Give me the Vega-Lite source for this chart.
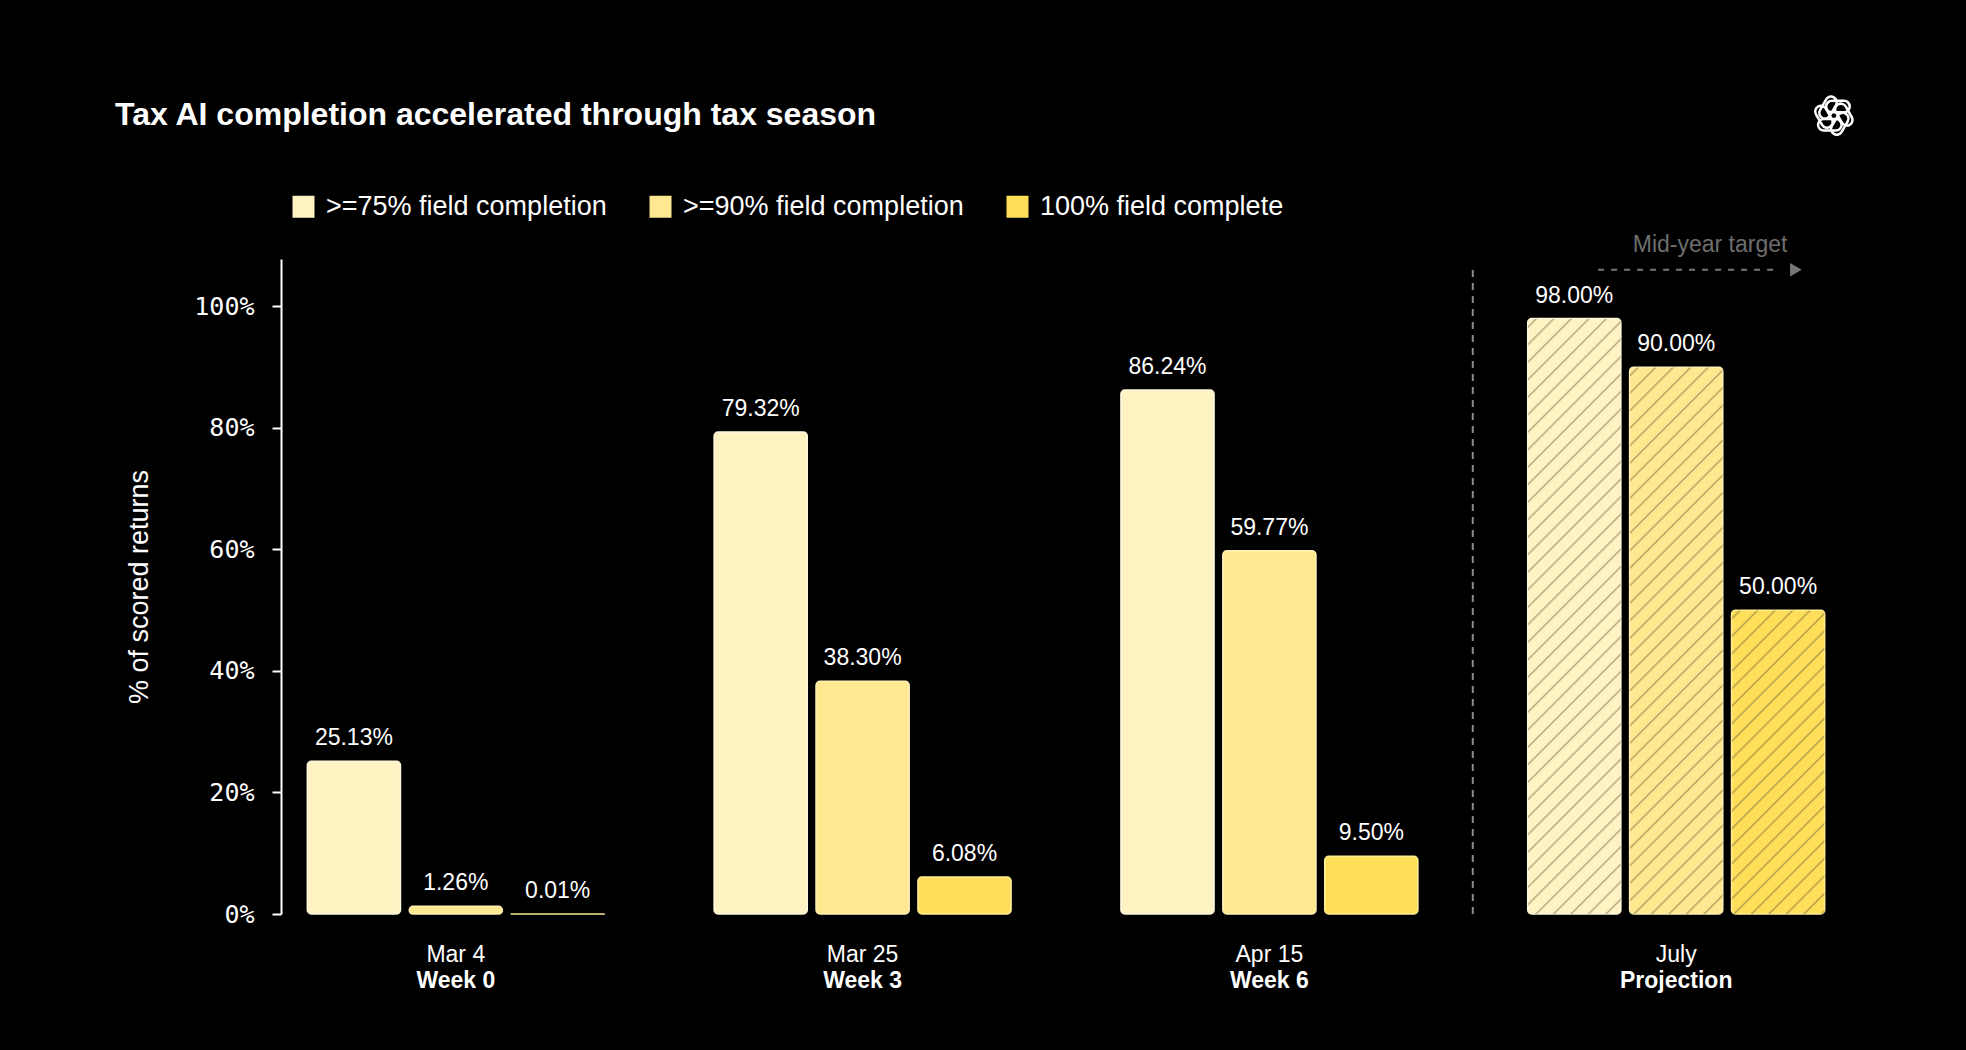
{
  "$schema": "https://vega.github.io/schema/vega-lite/v6.json",
  "width": 1570,
  "height": 655,
  "autosize": {"type": "none"},
  "padding": {"left": 281, "top": 259, "right": 115, "bottom": 136},
  "background": "#000000",
  "config": {
    "view": {"stroke": null},
    "font": "Liberation Sans",
    "axis": {"grid": false}
  },
  "title": {
    "text": "Tax AI completion accelerated through tax season",
    "anchor": "start",
    "frame": "group",
    "font": "Liberation Sans",
    "fontSize": 32,
    "fontWeight": "bold",
    "color": "#ffffff",
    "baseline": "alphabetic",
    "offset": 0,
    "dx": -166,
    "dy": 65
  },
  "data": {
    "values": [
      {"date": "Mar 4", "series": ">=75% field completion", "value": 0.2513},
      {"date": "Mar 4", "series": ">=90% field completion", "value": 0.0126},
      {"date": "Mar 4", "series": "100% field complete", "value": 0.0001},
      {"date": "Mar 25", "series": ">=75% field completion", "value": 0.7932},
      {"date": "Mar 25", "series": ">=90% field completion", "value": 0.383},
      {"date": "Mar 25", "series": "100% field complete", "value": 0.0608},
      {"date": "Apr 15", "series": ">=75% field completion", "value": 0.8624},
      {"date": "Apr 15", "series": ">=90% field completion", "value": 0.5977},
      {"date": "Apr 15", "series": "100% field complete", "value": 0.095},
      {"date": "July", "series": ">=75% field completion", "value": 0.98},
      {"date": "July", "series": ">=90% field completion", "value": 0.9},
      {"date": "July", "series": "100% field complete", "value": 0.5}
    ]
  },
  "layer": [
    {
      "data": {"values": [{"marker": "projection"}]},
      "mark": {"type": "rule", "color": "#8a8a8a", "strokeWidth": 2, "strokeDash": [7, 6]},
      "encoding": {
        "x": {"datum": "July", "bandPosition": -0.185, "axis": null},
        "y": {"datum": 0},
        "y2": {"datum": 1.067}
      }
    },
    {
      "mark": {"type": "bar", "cornerRadius": 4, "strokeWidth": 1.5},
      "encoding": {
        "x": {
          "field": "date",
          "type": "nominal",
          "scale": {"domain": ["Mar 4", "Mar 25", "Apr 15", "July"], "paddingInner": 0.27, "paddingOuter": 0.0647},
          "axis": {
            "title": null,
            "orient": "bottom",
            "domain": false,
            "ticks": false,
            "tickSize": 0,
            "labelAngle": 0,
            "labelFont": "Liberation Sans",
            "labelFontSize": 23,
            "labelColor": "#ffffff",
            "labelPadding": 29
          }
        },
        "xOffset": {
          "field": "series",
          "type": "nominal",
          "scale": {"domain": [">=75% field completion", ">=90% field completion", "100% field complete"], "paddingInner": 0.086, "paddingOuter": 0}
        },
        "y": {
          "field": "value",
          "type": "quantitative",
          "scale": {"domain": [0, 1.078], "nice": false},
          "axis": {
            "title": "% of scored returns",
            "values": [0, 0.2, 0.4, 0.6, 0.8, 1],
            "format": ".0%",
            "domainColor": "#ffffff",
            "domainWidth": 2,
            "tickColor": "#ffffff",
            "tickWidth": 2,
            "tickSize": 9,
            "labelFont": "DejaVu Sans Mono",
            "labelFontSize": 25,
            "labelColor": "#ffffff",
            "labelPadding": 18,
            "titleFont": "Liberation Sans",
            "titleFontSize": 27,
            "titleFontWeight": "normal",
            "titleColor": "#ffffff",
            "titlePadding": 40
          }
        },
        "color": {
          "field": "series",
          "type": "nominal",
          "scale": {
            "domain": [">=75% field completion", ">=90% field completion", "100% field complete"],
            "range": ["#fff3c4", "#ffe88f", "#ffdf5a"]
          },
          "legend": {
            "title": null,
            "orient": "none",
            "legendX": 9,
            "legendY": -66,
            "direction": "horizontal",
            "symbolType": "square",
            "symbolSize": 484,
            "symbolStrokeWidth": 0,
            "symbolOpacity": 1,
            "labelFont": "Liberation Sans",
            "labelFontSize": 27,
            "labelColor": "#ffffff",
            "labelLimit": 500,
            "labelOffset": 9,
            "columnPadding": 40
          }
        },
        "stroke": {
          "field": "series",
          "type": "nominal",
          "scale": {
            "domain": [">=75% field completion", ">=90% field completion", "100% field complete"],
            "range": ["#fff8dc", "#fff0b4", "#ffec94"]
          },
          "legend": null
        }
      }
    },
    {
      "transform": [{"filter": "datum.date == 'July'"}],
      "mark": {"type": "bar", "cornerRadius": 4},
      "encoding": {
        "x": {"field": "date", "type": "nominal", "axis": null},
        "xOffset": {"field": "series", "type": "nominal"},
        "y": {"field": "value", "type": "quantitative"},
        "fill": {
          "condition": [
            {
              "test": "datum.series == '>=75% field completion'",
              "value": {
                "gradient": "linear", "x1": 0, "y1": 0, "x2": 0.17963, "y2": 1.14758,
                "stops": [
                  {"offset": 0.0095, "color": "rgba(90,80,50,0)"}, {"offset": 0.0125, "color": "rgba(90,80,50,0.45)"}, {"offset": 0.0155, "color": "rgba(90,80,50,0)"},
                  {"offset": 0.0345, "color": "rgba(90,80,50,0)"}, {"offset": 0.0375, "color": "rgba(90,80,50,0.45)"}, {"offset": 0.0405, "color": "rgba(90,80,50,0)"},
                  {"offset": 0.0595, "color": "rgba(90,80,50,0)"}, {"offset": 0.0625, "color": "rgba(90,80,50,0.45)"}, {"offset": 0.0655, "color": "rgba(90,80,50,0)"},
                  {"offset": 0.0845, "color": "rgba(90,80,50,0)"}, {"offset": 0.0875, "color": "rgba(90,80,50,0.45)"}, {"offset": 0.0905, "color": "rgba(90,80,50,0)"},
                  {"offset": 0.1095, "color": "rgba(90,80,50,0)"}, {"offset": 0.1125, "color": "rgba(90,80,50,0.45)"}, {"offset": 0.1155, "color": "rgba(90,80,50,0)"},
                  {"offset": 0.1345, "color": "rgba(90,80,50,0)"}, {"offset": 0.1375, "color": "rgba(90,80,50,0.45)"}, {"offset": 0.1405, "color": "rgba(90,80,50,0)"},
                  {"offset": 0.1595, "color": "rgba(90,80,50,0)"}, {"offset": 0.1625, "color": "rgba(90,80,50,0.45)"}, {"offset": 0.1655, "color": "rgba(90,80,50,0)"},
                  {"offset": 0.1845, "color": "rgba(90,80,50,0)"}, {"offset": 0.1875, "color": "rgba(90,80,50,0.45)"}, {"offset": 0.1905, "color": "rgba(90,80,50,0)"},
                  {"offset": 0.2095, "color": "rgba(90,80,50,0)"}, {"offset": 0.2125, "color": "rgba(90,80,50,0.45)"}, {"offset": 0.2155, "color": "rgba(90,80,50,0)"},
                  {"offset": 0.2345, "color": "rgba(90,80,50,0)"}, {"offset": 0.2375, "color": "rgba(90,80,50,0.45)"}, {"offset": 0.2405, "color": "rgba(90,80,50,0)"},
                  {"offset": 0.2595, "color": "rgba(90,80,50,0)"}, {"offset": 0.2625, "color": "rgba(90,80,50,0.45)"}, {"offset": 0.2655, "color": "rgba(90,80,50,0)"},
                  {"offset": 0.2845, "color": "rgba(90,80,50,0)"}, {"offset": 0.2875, "color": "rgba(90,80,50,0.45)"}, {"offset": 0.2905, "color": "rgba(90,80,50,0)"},
                  {"offset": 0.3095, "color": "rgba(90,80,50,0)"}, {"offset": 0.3125, "color": "rgba(90,80,50,0.45)"}, {"offset": 0.3155, "color": "rgba(90,80,50,0)"},
                  {"offset": 0.3345, "color": "rgba(90,80,50,0)"}, {"offset": 0.3375, "color": "rgba(90,80,50,0.45)"}, {"offset": 0.3405, "color": "rgba(90,80,50,0)"},
                  {"offset": 0.3595, "color": "rgba(90,80,50,0)"}, {"offset": 0.3625, "color": "rgba(90,80,50,0.45)"}, {"offset": 0.3655, "color": "rgba(90,80,50,0)"},
                  {"offset": 0.3845, "color": "rgba(90,80,50,0)"}, {"offset": 0.3875, "color": "rgba(90,80,50,0.45)"}, {"offset": 0.3905, "color": "rgba(90,80,50,0)"},
                  {"offset": 0.4095, "color": "rgba(90,80,50,0)"}, {"offset": 0.4125, "color": "rgba(90,80,50,0.45)"}, {"offset": 0.4155, "color": "rgba(90,80,50,0)"},
                  {"offset": 0.4345, "color": "rgba(90,80,50,0)"}, {"offset": 0.4375, "color": "rgba(90,80,50,0.45)"}, {"offset": 0.4405, "color": "rgba(90,80,50,0)"},
                  {"offset": 0.4595, "color": "rgba(90,80,50,0)"}, {"offset": 0.4625, "color": "rgba(90,80,50,0.45)"}, {"offset": 0.4655, "color": "rgba(90,80,50,0)"},
                  {"offset": 0.4845, "color": "rgba(90,80,50,0)"}, {"offset": 0.4875, "color": "rgba(90,80,50,0.45)"}, {"offset": 0.4905, "color": "rgba(90,80,50,0)"},
                  {"offset": 0.5095, "color": "rgba(90,80,50,0)"}, {"offset": 0.5125, "color": "rgba(90,80,50,0.45)"}, {"offset": 0.5155, "color": "rgba(90,80,50,0)"},
                  {"offset": 0.5345, "color": "rgba(90,80,50,0)"}, {"offset": 0.5375, "color": "rgba(90,80,50,0.45)"}, {"offset": 0.5405, "color": "rgba(90,80,50,0)"},
                  {"offset": 0.5595, "color": "rgba(90,80,50,0)"}, {"offset": 0.5625, "color": "rgba(90,80,50,0.45)"}, {"offset": 0.5655, "color": "rgba(90,80,50,0)"},
                  {"offset": 0.5845, "color": "rgba(90,80,50,0)"}, {"offset": 0.5875, "color": "rgba(90,80,50,0.45)"}, {"offset": 0.5905, "color": "rgba(90,80,50,0)"},
                  {"offset": 0.6095, "color": "rgba(90,80,50,0)"}, {"offset": 0.6125, "color": "rgba(90,80,50,0.45)"}, {"offset": 0.6155, "color": "rgba(90,80,50,0)"},
                  {"offset": 0.6345, "color": "rgba(90,80,50,0)"}, {"offset": 0.6375, "color": "rgba(90,80,50,0.45)"}, {"offset": 0.6405, "color": "rgba(90,80,50,0)"},
                  {"offset": 0.6595, "color": "rgba(90,80,50,0)"}, {"offset": 0.6625, "color": "rgba(90,80,50,0.45)"}, {"offset": 0.6655, "color": "rgba(90,80,50,0)"},
                  {"offset": 0.6845, "color": "rgba(90,80,50,0)"}, {"offset": 0.6875, "color": "rgba(90,80,50,0.45)"}, {"offset": 0.6905, "color": "rgba(90,80,50,0)"},
                  {"offset": 0.7095, "color": "rgba(90,80,50,0)"}, {"offset": 0.7125, "color": "rgba(90,80,50,0.45)"}, {"offset": 0.7155, "color": "rgba(90,80,50,0)"},
                  {"offset": 0.7345, "color": "rgba(90,80,50,0)"}, {"offset": 0.7375, "color": "rgba(90,80,50,0.45)"}, {"offset": 0.7405, "color": "rgba(90,80,50,0)"},
                  {"offset": 0.7595, "color": "rgba(90,80,50,0)"}, {"offset": 0.7625, "color": "rgba(90,80,50,0.45)"}, {"offset": 0.7655, "color": "rgba(90,80,50,0)"},
                  {"offset": 0.7845, "color": "rgba(90,80,50,0)"}, {"offset": 0.7875, "color": "rgba(90,80,50,0.45)"}, {"offset": 0.7905, "color": "rgba(90,80,50,0)"},
                  {"offset": 0.8095, "color": "rgba(90,80,50,0)"}, {"offset": 0.8125, "color": "rgba(90,80,50,0.45)"}, {"offset": 0.8155, "color": "rgba(90,80,50,0)"},
                  {"offset": 0.8345, "color": "rgba(90,80,50,0)"}, {"offset": 0.8375, "color": "rgba(90,80,50,0.45)"}, {"offset": 0.8405, "color": "rgba(90,80,50,0)"},
                  {"offset": 0.8595, "color": "rgba(90,80,50,0)"}, {"offset": 0.8625, "color": "rgba(90,80,50,0.45)"}, {"offset": 0.8655, "color": "rgba(90,80,50,0)"},
                  {"offset": 0.8845, "color": "rgba(90,80,50,0)"}, {"offset": 0.8875, "color": "rgba(90,80,50,0.45)"}, {"offset": 0.8905, "color": "rgba(90,80,50,0)"},
                  {"offset": 0.9095, "color": "rgba(90,80,50,0)"}, {"offset": 0.9125, "color": "rgba(90,80,50,0.45)"}, {"offset": 0.9155, "color": "rgba(90,80,50,0)"},
                  {"offset": 0.9345, "color": "rgba(90,80,50,0)"}, {"offset": 0.9375, "color": "rgba(90,80,50,0.45)"}, {"offset": 0.9405, "color": "rgba(90,80,50,0)"},
                  {"offset": 0.9595, "color": "rgba(90,80,50,0)"}, {"offset": 0.9625, "color": "rgba(90,80,50,0.45)"}, {"offset": 0.9655, "color": "rgba(90,80,50,0)"},
                  {"offset": 0.9845, "color": "rgba(90,80,50,0)"}, {"offset": 0.9875, "color": "rgba(90,80,50,0.45)"}, {"offset": 0.9905, "color": "rgba(90,80,50,0)"}
                ]
              }
            },
            {
              "test": "datum.series == '>=90% field completion'",
              "value": {
                "gradient": "linear", "x1": 0, "y1": 0, "x2": 0.21204, "y2": 1.24404,
                "stops": [
                  {"offset": 0.0095, "color": "rgba(90,80,50,0)"}, {"offset": 0.0125, "color": "rgba(90,80,50,0.45)"}, {"offset": 0.0155, "color": "rgba(90,80,50,0)"},
                  {"offset": 0.0345, "color": "rgba(90,80,50,0)"}, {"offset": 0.0375, "color": "rgba(90,80,50,0.45)"}, {"offset": 0.0405, "color": "rgba(90,80,50,0)"},
                  {"offset": 0.0595, "color": "rgba(90,80,50,0)"}, {"offset": 0.0625, "color": "rgba(90,80,50,0.45)"}, {"offset": 0.0655, "color": "rgba(90,80,50,0)"},
                  {"offset": 0.0845, "color": "rgba(90,80,50,0)"}, {"offset": 0.0875, "color": "rgba(90,80,50,0.45)"}, {"offset": 0.0905, "color": "rgba(90,80,50,0)"},
                  {"offset": 0.1095, "color": "rgba(90,80,50,0)"}, {"offset": 0.1125, "color": "rgba(90,80,50,0.45)"}, {"offset": 0.1155, "color": "rgba(90,80,50,0)"},
                  {"offset": 0.1345, "color": "rgba(90,80,50,0)"}, {"offset": 0.1375, "color": "rgba(90,80,50,0.45)"}, {"offset": 0.1405, "color": "rgba(90,80,50,0)"},
                  {"offset": 0.1595, "color": "rgba(90,80,50,0)"}, {"offset": 0.1625, "color": "rgba(90,80,50,0.45)"}, {"offset": 0.1655, "color": "rgba(90,80,50,0)"},
                  {"offset": 0.1845, "color": "rgba(90,80,50,0)"}, {"offset": 0.1875, "color": "rgba(90,80,50,0.45)"}, {"offset": 0.1905, "color": "rgba(90,80,50,0)"},
                  {"offset": 0.2095, "color": "rgba(90,80,50,0)"}, {"offset": 0.2125, "color": "rgba(90,80,50,0.45)"}, {"offset": 0.2155, "color": "rgba(90,80,50,0)"},
                  {"offset": 0.2345, "color": "rgba(90,80,50,0)"}, {"offset": 0.2375, "color": "rgba(90,80,50,0.45)"}, {"offset": 0.2405, "color": "rgba(90,80,50,0)"},
                  {"offset": 0.2595, "color": "rgba(90,80,50,0)"}, {"offset": 0.2625, "color": "rgba(90,80,50,0.45)"}, {"offset": 0.2655, "color": "rgba(90,80,50,0)"},
                  {"offset": 0.2845, "color": "rgba(90,80,50,0)"}, {"offset": 0.2875, "color": "rgba(90,80,50,0.45)"}, {"offset": 0.2905, "color": "rgba(90,80,50,0)"},
                  {"offset": 0.3095, "color": "rgba(90,80,50,0)"}, {"offset": 0.3125, "color": "rgba(90,80,50,0.45)"}, {"offset": 0.3155, "color": "rgba(90,80,50,0)"},
                  {"offset": 0.3345, "color": "rgba(90,80,50,0)"}, {"offset": 0.3375, "color": "rgba(90,80,50,0.45)"}, {"offset": 0.3405, "color": "rgba(90,80,50,0)"},
                  {"offset": 0.3595, "color": "rgba(90,80,50,0)"}, {"offset": 0.3625, "color": "rgba(90,80,50,0.45)"}, {"offset": 0.3655, "color": "rgba(90,80,50,0)"},
                  {"offset": 0.3845, "color": "rgba(90,80,50,0)"}, {"offset": 0.3875, "color": "rgba(90,80,50,0.45)"}, {"offset": 0.3905, "color": "rgba(90,80,50,0)"},
                  {"offset": 0.4095, "color": "rgba(90,80,50,0)"}, {"offset": 0.4125, "color": "rgba(90,80,50,0.45)"}, {"offset": 0.4155, "color": "rgba(90,80,50,0)"},
                  {"offset": 0.4345, "color": "rgba(90,80,50,0)"}, {"offset": 0.4375, "color": "rgba(90,80,50,0.45)"}, {"offset": 0.4405, "color": "rgba(90,80,50,0)"},
                  {"offset": 0.4595, "color": "rgba(90,80,50,0)"}, {"offset": 0.4625, "color": "rgba(90,80,50,0.45)"}, {"offset": 0.4655, "color": "rgba(90,80,50,0)"},
                  {"offset": 0.4845, "color": "rgba(90,80,50,0)"}, {"offset": 0.4875, "color": "rgba(90,80,50,0.45)"}, {"offset": 0.4905, "color": "rgba(90,80,50,0)"},
                  {"offset": 0.5095, "color": "rgba(90,80,50,0)"}, {"offset": 0.5125, "color": "rgba(90,80,50,0.45)"}, {"offset": 0.5155, "color": "rgba(90,80,50,0)"},
                  {"offset": 0.5345, "color": "rgba(90,80,50,0)"}, {"offset": 0.5375, "color": "rgba(90,80,50,0.45)"}, {"offset": 0.5405, "color": "rgba(90,80,50,0)"},
                  {"offset": 0.5595, "color": "rgba(90,80,50,0)"}, {"offset": 0.5625, "color": "rgba(90,80,50,0.45)"}, {"offset": 0.5655, "color": "rgba(90,80,50,0)"},
                  {"offset": 0.5845, "color": "rgba(90,80,50,0)"}, {"offset": 0.5875, "color": "rgba(90,80,50,0.45)"}, {"offset": 0.5905, "color": "rgba(90,80,50,0)"},
                  {"offset": 0.6095, "color": "rgba(90,80,50,0)"}, {"offset": 0.6125, "color": "rgba(90,80,50,0.45)"}, {"offset": 0.6155, "color": "rgba(90,80,50,0)"},
                  {"offset": 0.6345, "color": "rgba(90,80,50,0)"}, {"offset": 0.6375, "color": "rgba(90,80,50,0.45)"}, {"offset": 0.6405, "color": "rgba(90,80,50,0)"},
                  {"offset": 0.6595, "color": "rgba(90,80,50,0)"}, {"offset": 0.6625, "color": "rgba(90,80,50,0.45)"}, {"offset": 0.6655, "color": "rgba(90,80,50,0)"},
                  {"offset": 0.6845, "color": "rgba(90,80,50,0)"}, {"offset": 0.6875, "color": "rgba(90,80,50,0.45)"}, {"offset": 0.6905, "color": "rgba(90,80,50,0)"},
                  {"offset": 0.7095, "color": "rgba(90,80,50,0)"}, {"offset": 0.7125, "color": "rgba(90,80,50,0.45)"}, {"offset": 0.7155, "color": "rgba(90,80,50,0)"},
                  {"offset": 0.7345, "color": "rgba(90,80,50,0)"}, {"offset": 0.7375, "color": "rgba(90,80,50,0.45)"}, {"offset": 0.7405, "color": "rgba(90,80,50,0)"},
                  {"offset": 0.7595, "color": "rgba(90,80,50,0)"}, {"offset": 0.7625, "color": "rgba(90,80,50,0.45)"}, {"offset": 0.7655, "color": "rgba(90,80,50,0)"},
                  {"offset": 0.7845, "color": "rgba(90,80,50,0)"}, {"offset": 0.7875, "color": "rgba(90,80,50,0.45)"}, {"offset": 0.7905, "color": "rgba(90,80,50,0)"},
                  {"offset": 0.8095, "color": "rgba(90,80,50,0)"}, {"offset": 0.8125, "color": "rgba(90,80,50,0.45)"}, {"offset": 0.8155, "color": "rgba(90,80,50,0)"},
                  {"offset": 0.8345, "color": "rgba(90,80,50,0)"}, {"offset": 0.8375, "color": "rgba(90,80,50,0.45)"}, {"offset": 0.8405, "color": "rgba(90,80,50,0)"},
                  {"offset": 0.8595, "color": "rgba(90,80,50,0)"}, {"offset": 0.8625, "color": "rgba(90,80,50,0.45)"}, {"offset": 0.8655, "color": "rgba(90,80,50,0)"},
                  {"offset": 0.8845, "color": "rgba(90,80,50,0)"}, {"offset": 0.8875, "color": "rgba(90,80,50,0.45)"}, {"offset": 0.8905, "color": "rgba(90,80,50,0)"},
                  {"offset": 0.9095, "color": "rgba(90,80,50,0)"}, {"offset": 0.9125, "color": "rgba(90,80,50,0.45)"}, {"offset": 0.9155, "color": "rgba(90,80,50,0)"}
                ]
              }
            }
          ],
          "value": {
            "gradient": "linear", "x1": 0, "y1": 0, "x2": 0.64607, "y2": 2.10597,
            "stops": [
              {"offset": 0.0095, "color": "rgba(90,80,50,0)"}, {"offset": 0.0125, "color": "rgba(90,80,50,0.45)"}, {"offset": 0.0155, "color": "rgba(90,80,50,0)"},
              {"offset": 0.0345, "color": "rgba(90,80,50,0)"}, {"offset": 0.0375, "color": "rgba(90,80,50,0.45)"}, {"offset": 0.0405, "color": "rgba(90,80,50,0)"},
              {"offset": 0.0595, "color": "rgba(90,80,50,0)"}, {"offset": 0.0625, "color": "rgba(90,80,50,0.45)"}, {"offset": 0.0655, "color": "rgba(90,80,50,0)"},
              {"offset": 0.0845, "color": "rgba(90,80,50,0)"}, {"offset": 0.0875, "color": "rgba(90,80,50,0.45)"}, {"offset": 0.0905, "color": "rgba(90,80,50,0)"},
              {"offset": 0.1095, "color": "rgba(90,80,50,0)"}, {"offset": 0.1125, "color": "rgba(90,80,50,0.45)"}, {"offset": 0.1155, "color": "rgba(90,80,50,0)"},
              {"offset": 0.1345, "color": "rgba(90,80,50,0)"}, {"offset": 0.1375, "color": "rgba(90,80,50,0.45)"}, {"offset": 0.1405, "color": "rgba(90,80,50,0)"},
              {"offset": 0.1595, "color": "rgba(90,80,50,0)"}, {"offset": 0.1625, "color": "rgba(90,80,50,0.45)"}, {"offset": 0.1655, "color": "rgba(90,80,50,0)"},
              {"offset": 0.1845, "color": "rgba(90,80,50,0)"}, {"offset": 0.1875, "color": "rgba(90,80,50,0.45)"}, {"offset": 0.1905, "color": "rgba(90,80,50,0)"},
              {"offset": 0.2095, "color": "rgba(90,80,50,0)"}, {"offset": 0.2125, "color": "rgba(90,80,50,0.45)"}, {"offset": 0.2155, "color": "rgba(90,80,50,0)"},
              {"offset": 0.2345, "color": "rgba(90,80,50,0)"}, {"offset": 0.2375, "color": "rgba(90,80,50,0.45)"}, {"offset": 0.2405, "color": "rgba(90,80,50,0)"},
              {"offset": 0.2595, "color": "rgba(90,80,50,0)"}, {"offset": 0.2625, "color": "rgba(90,80,50,0.45)"}, {"offset": 0.2655, "color": "rgba(90,80,50,0)"},
              {"offset": 0.2845, "color": "rgba(90,80,50,0)"}, {"offset": 0.2875, "color": "rgba(90,80,50,0.45)"}, {"offset": 0.2905, "color": "rgba(90,80,50,0)"},
              {"offset": 0.3095, "color": "rgba(90,80,50,0)"}, {"offset": 0.3125, "color": "rgba(90,80,50,0.45)"}, {"offset": 0.3155, "color": "rgba(90,80,50,0)"},
              {"offset": 0.3345, "color": "rgba(90,80,50,0)"}, {"offset": 0.3375, "color": "rgba(90,80,50,0.45)"}, {"offset": 0.3405, "color": "rgba(90,80,50,0)"},
              {"offset": 0.3595, "color": "rgba(90,80,50,0)"}, {"offset": 0.3625, "color": "rgba(90,80,50,0.45)"}, {"offset": 0.3655, "color": "rgba(90,80,50,0)"},
              {"offset": 0.3845, "color": "rgba(90,80,50,0)"}, {"offset": 0.3875, "color": "rgba(90,80,50,0.45)"}, {"offset": 0.3905, "color": "rgba(90,80,50,0)"},
              {"offset": 0.4095, "color": "rgba(90,80,50,0)"}, {"offset": 0.4125, "color": "rgba(90,80,50,0.45)"}, {"offset": 0.4155, "color": "rgba(90,80,50,0)"},
              {"offset": 0.4345, "color": "rgba(90,80,50,0)"}, {"offset": 0.4375, "color": "rgba(90,80,50,0.45)"}, {"offset": 0.4405, "color": "rgba(90,80,50,0)"},
              {"offset": 0.4595, "color": "rgba(90,80,50,0)"}, {"offset": 0.4625, "color": "rgba(90,80,50,0.45)"}, {"offset": 0.4655, "color": "rgba(90,80,50,0)"},
              {"offset": 0.4845, "color": "rgba(90,80,50,0)"}, {"offset": 0.4875, "color": "rgba(90,80,50,0.45)"}, {"offset": 0.4905, "color": "rgba(90,80,50,0)"},
              {"offset": 0.5095, "color": "rgba(90,80,50,0)"}, {"offset": 0.5125, "color": "rgba(90,80,50,0.45)"}, {"offset": 0.5155, "color": "rgba(90,80,50,0)"},
              {"offset": 0.5345, "color": "rgba(90,80,50,0)"}, {"offset": 0.5375, "color": "rgba(90,80,50,0.45)"}, {"offset": 0.5405, "color": "rgba(90,80,50,0)"},
              {"offset": 0.5595, "color": "rgba(90,80,50,0)"}, {"offset": 0.5625, "color": "rgba(90,80,50,0.45)"}, {"offset": 0.5655, "color": "rgba(90,80,50,0)"},
              {"offset": 0.5845, "color": "rgba(90,80,50,0)"}, {"offset": 0.5875, "color": "rgba(90,80,50,0.45)"}, {"offset": 0.5905, "color": "rgba(90,80,50,0)"}
            ]
          }
        }
      }
    },
    {
      "mark": {"type": "text", "font": "Liberation Sans", "fontSize": 23, "color": "#ffffff", "align": "center", "baseline": "alphabetic", "dy": -16},
      "encoding": {
        "x": {
          "field": "date",
          "type": "nominal",
          "axis": {
            "title": null,
            "orient": "bottom",
            "domain": false,
            "ticks": false,
            "tickSize": 0,
            "labelAngle": 0,
            "labelExpr": "datum.value == 'Mar 4' ? 'Week 0' : datum.value == 'Mar 25' ? 'Week 3' : datum.value == 'Apr 15' ? 'Week 6' : 'Projection'",
            "labelFont": "Liberation Sans",
            "labelFontSize": 23,
            "labelFontWeight": "bold",
            "labelColor": "#ffffff",
            "labelPadding": 55
          }
        },
        "xOffset": {"field": "series", "type": "nominal"},
        "y": {"field": "value", "type": "quantitative"},
        "text": {"field": "value", "type": "quantitative", "format": ".2%"}
      }
    },
    {
      "data": {"values": [{"marker": "target"}]},
      "mark": {"type": "rule", "color": "#777777", "strokeWidth": 2, "strokeDash": [6, 7]},
      "encoding": {
        "x": {"datum": "July", "bandPosition": 0.237, "axis": null},
        "x2": {"datum": "July", "bandPosition": 0.847},
        "y": {"datum": 1.0604}
      }
    },
    {
      "data": {"values": [{"marker": "target"}]},
      "mark": {"type": "point", "shape": "triangle-right", "filled": true, "color": "#777777", "size": 180, "opacity": 1},
      "encoding": {
        "x": {"datum": "July", "bandPosition": 0.903, "axis": null},
        "y": {"datum": 1.0604}
      }
    },
    {
      "data": {"values": [{"note": "Mid-year target"}]},
      "mark": {"type": "text", "font": "Liberation Sans", "fontSize": 23, "color": "#6e6e6e", "align": "center", "baseline": "alphabetic"},
      "encoding": {
        "x": {"datum": "July", "bandPosition": 0.614, "axis": null},
        "y": {"datum": 1.0889},
        "text": {"field": "note", "type": "nominal"}
      }
    },
    {
      "data": {"values": [{"marker": "logo"}]},
      "mark": {
        "type": "point",
        "filled": false,
        "stroke": "#ffffff",
        "strokeWidth": 2.5,
        "opacity": 1,
        "size": 1650,
        "shape": "M0.5,-0.17L-0.1,-0.17A0.28,0.28 0 0 1 -0.1,-0.73L0.5,-0.73A0.28,0.28 0 0 1 0.5,-0.17ZM0.397,0.348L0.097,-0.172A0.28,0.28 0 0 1 0.582,-0.452L0.882,0.068A0.28,0.28 0 0 1 0.397,0.348ZM-0.103,0.518L0.197,-0.002A0.28,0.28 0 0 1 0.682,0.278L0.382,0.798A0.28,0.28 0 0 1 -0.103,0.518ZM-0.5,0.17L0.1,0.17A0.28,0.28 0 0 1 0.1,0.73L-0.5,0.73A0.28,0.28 0 0 1 -0.5,0.17ZM-0.397,-0.348L-0.097,0.172A0.28,0.28 0 0 1 -0.582,0.452L-0.882,-0.068A0.28,0.28 0 0 1 -0.397,-0.348ZM0.103,-0.518L-0.197,0.002A0.28,0.28 0 0 1 -0.682,-0.278L-0.382,-0.798A0.28,0.28 0 0 1 0.103,-0.518Z"
      },
      "encoding": {
        "x": {"datum": "July", "bandPosition": 1.031, "axis": null},
        "y": {"datum": 1.3139}
      }
    }
  ],
  "resolve": {"axis": {"x": "independent"}}
}
